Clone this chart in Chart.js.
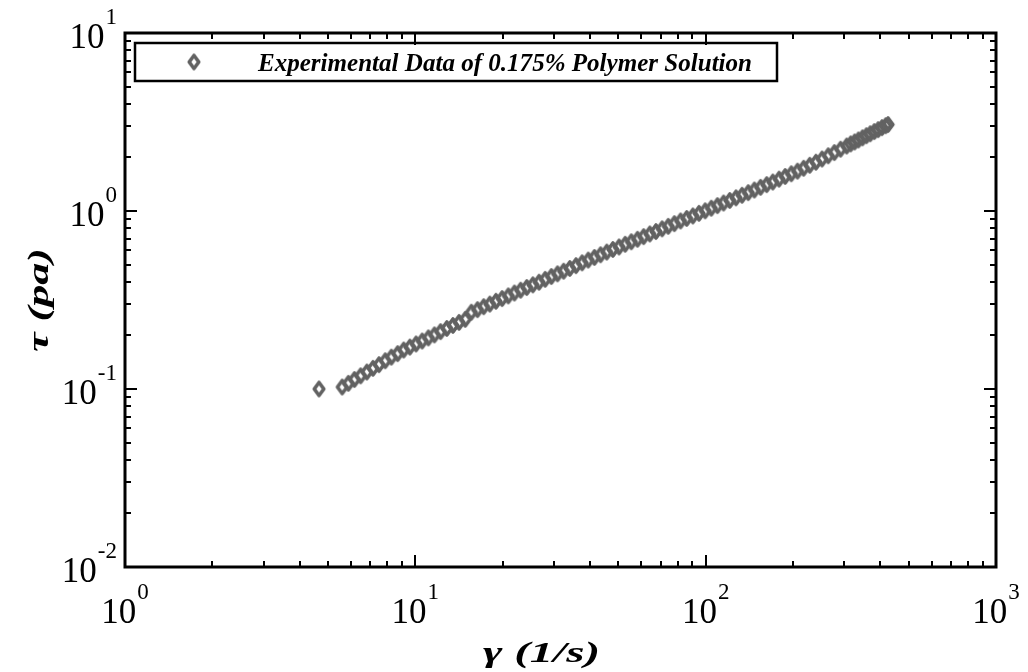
<!DOCTYPE html>
<html>
<head>
<meta charset="utf-8">
<script src="https://cdn.jsdelivr.net/npm/chart.js@4.4.1/dist/chart.umd.min.js"></script>
<style>
  html, body { margin: 0; padding: 0; background: #fff; }
  #wrap { width: 1028px; height: 672px; }
</style>
</head>
<body>
<div id="wrap"><canvas id="flowChart" width="1028" height="672"></canvas></div>
<script>
// shear rate (1/s) and shear stress (pa)
const shearRate = [
  4.66, 5.6, 5.88, 6.17, 6.48, 6.81, 7.15, 7.5, 7.88, 8.27, 8.69,
  9.12, 9.58, 10.06, 10.56, 11.09, 11.64, 12.22, 12.84, 13.48, 14.15, 14.86,
  15.6, 16.38, 17.2, 18.06, 18.96, 19.91, 20.91, 21.95, 23.05, 24.2, 25.41,
  26.68, 28.02, 29.42, 30.89, 32.43, 34.05, 35.76, 37.55, 39.42, 41.39,
  43.46, 45.64, 47.92, 50.32, 52.83, 55.47, 58.25, 61.16, 64.22, 67.43,
  70.8, 74.34, 78.06, 81.96, 86.06, 90.37, 94.88, 99.63, 104.6, 109.8,
  115.3, 121.1, 127.2, 133.5, 140.2, 147.2, 154.6, 162.3, 170.4, 179,
  187.9, 197.3, 207.2, 217.5, 228.4, 239.8, 251.8, 264.4, 277.6, 291.5,
  306.1, 316, 326, 336, 347, 358, 369, 381, 393, 405, 417, 425
];
const shearStress = [
  0.100, 0.1026, 0.1076, 0.113, 0.1186, 0.1245, 0.1306, 0.137, 0.144, 0.151, 0.158,
  0.1656, 0.172, 0.179, 0.186, 0.1936, 0.2014, 0.21, 0.2188, 0.2275, 0.2366, 0.246,
  0.27, 0.279, 0.29, 0.30, 0.311, 0.322, 0.3334, 0.346, 0.359, 0.3715, 0.3846,
  0.398, 0.413, 0.4285, 0.4436, 0.459, 0.4755, 0.493, 0.5115, 0.53, 0.548,
  0.5675, 0.5875, 0.608, 0.628, 0.650, 0.6714, 0.6934, 0.7178, 0.743, 0.767,
  0.794, 0.820, 0.849, 0.879, 0.908, 0.938, 0.970, 1.002, 1.037, 1.072,
  1.109, 1.146, 1.186, 1.225, 1.268, 1.312, 1.358, 1.406, 1.455, 1.51,
  1.563, 1.618, 1.675, 1.738, 1.807, 1.879, 1.959, 2.042, 2.128, 2.223,
  2.317, 2.382, 2.443, 2.506, 2.576, 2.649, 2.716, 2.793, 2.864, 2.94, 3.013, 3.06
];
const seriesLabel = 'Experimental Data of 0.175% Polymer Solution';

// axis decades and the exponents printed under / beside them
const xDecades = [1, 10, 100, 1000];
const xTickExp = ['0', '1', '2', '3'];
const yDecades = [0.01, 0.1, 1, 10];
const yTickExp = ['-2', '-1', '0', '1'];

const markerColor = '#626262';
const serif = '"Liberation Serif", "DejaVu Serif", serif';

// tall hollow diamond used as marker (thick outline, small hole)
const diamond = document.createElement('canvas');
diamond.width = 16;
diamond.height = 19;
(function () {
  const c = diamond.getContext('2d');
  c.strokeStyle = markerColor;
  c.lineWidth = 3.6;
  c.lineJoin = 'round';
  c.beginPath();
  c.moveTo(8, 3);
  c.lineTo(12.8, 9.5);
  c.lineTo(8, 16);
  c.lineTo(3.2, 9.5);
  c.closePath();
  c.stroke();
})();

const points = shearRate.map((x, i) => ({ x: x, y: shearStress[i] }));

// draw text squeezed/stretched to a given width
function fitText(ctx, text, x, y, width) {
  const w = ctx.measureText(text).width;
  ctx.save();
  ctx.translate(x, y);
  ctx.scale(width / w, 1);
  ctx.fillText(text, 0, 0);
  ctx.restore();
}

function powerLabel(ctx, base, exp, cx, cy, align) {
  ctx.font = '35px ' + serif;
  const bw = ctx.measureText(base).width;
  ctx.font = '23px ' + serif;
  const ew = ctx.measureText(exp).width;
  let left = align === 'right' ? cx - bw - ew - 1 : cx - (bw + ew + 1) / 2;
  ctx.font = '35px ' + serif;
  ctx.fillText(base, left, cy);
  ctx.font = '23px ' + serif;
  ctx.fillText(exp, left + bw + 1, cy - 24);
}

const framePlugin = {
  id: 'frame',
  afterDatasetsDraw(chart) {
    const ctx = chart.ctx;
    const a = chart.chartArea;
    const xs = chart.scales.x;
    const ys = chart.scales.y;
    ctx.save();
    ctx.strokeStyle = '#000';
    ctx.fillStyle = '#000';

    // inward ticks on all four sides
    ctx.lineWidth = 2;
    ctx.beginPath();
    xDecades.forEach((d, i) => {
      for (let m = 1; m <= 9; m++) {
        if (i === xDecades.length - 1 && m > 1) break;
        const px = Math.round(xs.getPixelForValue(d * m));
        const len = m === 1 ? 12 : 6;
        ctx.moveTo(px, a.bottom); ctx.lineTo(px, a.bottom - len);
        ctx.moveTo(px, a.top); ctx.lineTo(px, a.top + len);
      }
    });
    yDecades.forEach((d, i) => {
      for (let m = 1; m <= 9; m++) {
        if (i === yDecades.length - 1 && m > 1) break;
        const py = Math.round(ys.getPixelForValue(d * m));
        const len = m === 1 ? 12 : 6;
        ctx.moveTo(a.left, py); ctx.lineTo(a.left + len, py);
        ctx.moveTo(a.right, py); ctx.lineTo(a.right - len, py);
      }
    });
    ctx.stroke();

    ctx.lineWidth = 3;
    ctx.strokeRect(a.left, a.top, a.right - a.left, a.bottom - a.top);

    // tick labels
    ctx.textBaseline = 'alphabetic';
    ctx.textAlign = 'left';
    xDecades.forEach((d, i) => {
      powerLabel(ctx, '10', xTickExp[i], xs.getPixelForValue(d), a.bottom + 56, 'center');
    });
    yDecades.forEach((d, i) => {
      powerLabel(ctx, '10', yTickExp[i], a.left - 8, ys.getPixelForValue(d) + 15, 'right');
    });

    // axis titles
    ctx.font = 'bold italic 30px ' + serif;
    fitText(ctx, 'γ (1/s)', 483, 662, 117);
    ctx.save();
    ctx.translate(48, 352);
    ctx.rotate(-Math.PI / 2);
    fitText(ctx, 'τ (pa)', 0, 0, 104);
    ctx.restore();

    // legend box
    ctx.lineWidth = 2.5;
    ctx.strokeRect(135, 43, 642, 38);
    ctx.drawImage(diamond, 194 - diamond.width / 2, 62 - diamond.height / 2);
    ctx.font = 'bold italic 25px ' + serif;
    fitText(ctx, chart.data.datasets[0].label, 258, 71, 494);
    ctx.restore();
  }
};

new Chart(document.getElementById('flowChart'), {
  type: 'scatter',
  data: {
    datasets: [{
      label: seriesLabel,
      data: points,
      pointStyle: diamond,
      pointRadius: 7,
      borderColor: markerColor,
      backgroundColor: 'transparent',
      showLine: false
    }]
  },
  options: {
    responsive: false,
    animation: false,
    devicePixelRatio: 1,
    layout: { padding: { left: 125, top: 33, right: 32, bottom: 105 } },
    plugins: { legend: { display: false }, tooltip: { enabled: false } },
    scales: {
      x: { type: 'logarithmic', min: 1, max: 1000, display: false },
      y: { type: 'logarithmic', min: 0.01, max: 10, display: false }
    }
  },
  plugins: [framePlugin]
});
</script>
</body>
</html>
